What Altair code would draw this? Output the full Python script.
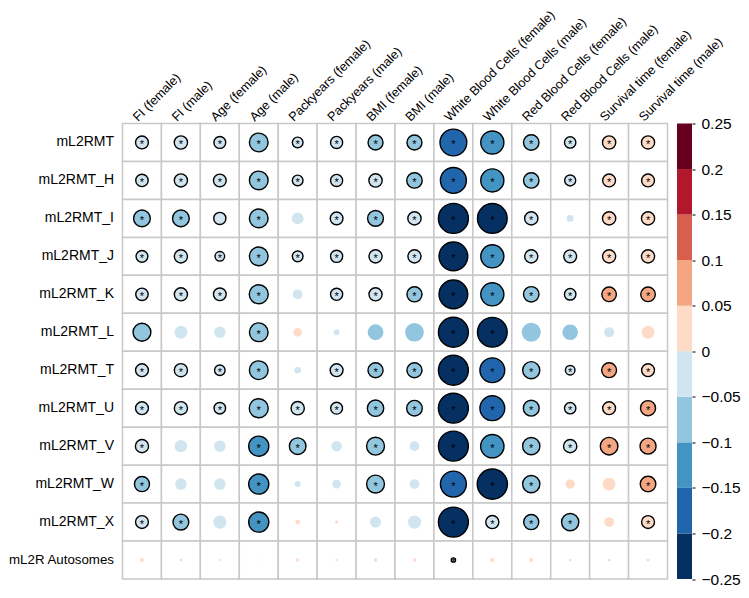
import altair as alt
import pandas as pd

cols = ["FI (female)", "FI (male)", "Age (female)", "Age (male)",
        "Packyears (female)", "Packyears (male)", "BMI (female)", "BMI (male)",
        "White Blood Cells (female)", "White Blood Cells (male)",
        "Red Blood Cells (female)", "Red Blood Cells (male)",
        "Survival time (female)", "Survival time (male)"]

rows = ["mL2RMT", "mL2RMT_H", "mL2RMT_I", "mL2RMT_J", "mL2RMT_K", "mL2RMT_L",
        "mL2RMT_T", "mL2RMT_U", "mL2RMT_V", "mL2RMT_W", "mL2RMT_X", "mL2R Autosomes"]

v_mL2RMT   = [-0.045, -0.048, -0.038, -0.095, -0.031, -0.040, -0.061, -0.061, -0.195, -0.145, -0.065, -0.035, 0.048, 0.047]
v_H        = [-0.042, -0.047, -0.044, -0.095, -0.031, -0.040, -0.048, -0.065, -0.183, -0.145, -0.065, -0.033, 0.045, 0.045]
v_I        = [-0.076, -0.076, -0.040, -0.095, -0.038, -0.044, -0.068, -0.048, -0.244, -0.240, -0.048, -0.013, 0.048, 0.047]
v_J        = [-0.038, -0.047, -0.025, -0.095, -0.031, -0.040, -0.047, -0.047, -0.225, -0.145, -0.047, -0.045, 0.047, 0.047]
v_K        = [-0.042, -0.047, -0.044, -0.098, -0.026, -0.040, -0.047, -0.062, -0.225, -0.145, -0.065, -0.036, 0.058, 0.058]
v_L        = [-0.087, -0.045, -0.036, -0.095, 0.020, -0.009, -0.068, -0.095, -0.244, -0.240, -0.098, -0.066, -0.028, 0.045]
v_T        = [-0.045, -0.047, -0.030, -0.095, -0.012, -0.045, -0.062, -0.062, -0.244, -0.167, -0.080, -0.025, 0.060, 0.045]
v_U        = [-0.045, -0.047, -0.036, -0.098, -0.048, -0.038, -0.073, -0.066, -0.244, -0.167, -0.068, -0.035, 0.045, 0.062]
v_V        = [-0.047, -0.042, -0.036, -0.110, -0.075, -0.030, -0.087, -0.026, -0.244, -0.148, -0.081, -0.048, 0.084, 0.070]
v_W        = [-0.062, -0.036, -0.036, -0.110, -0.010, -0.020, -0.087, -0.026, -0.183, -0.249, -0.081, 0.024, 0.045, 0.066]
v_X        = [-0.045, -0.068, -0.047, -0.110, 0.006, 0.003, -0.033, -0.047, -0.244, -0.047, -0.062, -0.081, 0.026, 0.045]
v_Auto     = [0.004, -0.002, -0.001, 0.0005, 0.003, -0.0015, -0.003, 0.003, -0.005, 0.005, 0.004, 0.002, -0.002, -0.002]
values = [v_mL2RMT, v_H, v_I, v_J, v_K, v_L, v_T, v_U, v_V, v_W, v_X, v_Auto]

ALL = list(range(14))
# column indices with a black outline, and with a significance star, per row
outlined = [ALL, ALL,
            [0, 1, 2, 3, 5, 6, 7, 8, 9, 10, 12, 13],
            ALL,
            [0, 1, 2, 3, 5, 6, 7, 8, 9, 10, 11, 12, 13],
            [0, 3, 8, 9],
            [0, 1, 2, 3, 5, 6, 7, 8, 9, 10, 11, 12, 13],
            ALL,
            [0, 3, 4, 6, 8, 9, 10, 11, 12, 13],
            [0, 3, 6, 8, 9, 10, 13],
            [0, 1, 3, 8, 9, 10, 11, 13],
            [8]]
starred = [ALL, ALL,
           [0, 1, 3, 5, 6, 7, 8, 9, 10, 12, 13],
           ALL,
           [0, 1, 2, 3, 5, 6, 7, 8, 9, 10, 11, 12, 13],
           [3, 8, 9],
           [0, 1, 2, 3, 5, 6, 7, 8, 9, 10, 11, 12, 13],
           ALL,
           [0, 3, 4, 6, 8, 9, 10, 11, 12, 13],
           [0, 3, 6, 8, 9, 10, 13],
           [0, 1, 3, 8, 9, 10, 11, 13],
           [8]]

palette = ["#053061", "#2166AC", "#4393C3", "#92C5DE", "#D1E5F0",
           "#FDDBC7", "#F4A582", "#D6604D", "#B2182B", "#67001F"]
legend_ticks = [-0.25, -0.2, -0.15, -0.1, -0.05, 0, 0.05, 0.1, 0.15, 0.2, 0.25]

records = []
for ri, r in enumerate(rows):
    for ci, c in enumerate(cols):
        v = values[ri][ci]
        records.append({"row": r, "col": c, "value": v, "absval": abs(v),
                        "outline": 1 if ci in outlined[ri] else 0,
                        "star": 1 if ci in starred[ri] else 0})
df = pd.DataFrame(records)

cb_df = pd.DataFrame({"lo": legend_ticks[:-1], "hi": legend_ticks[1:],
                      "mid": [(a + b) / 2 for a, b in zip(legend_ticks[:-1], legend_ticks[1:])],
                      "x0": 0, "x1": 1})

FONT = "Liberation Sans"
W, H = 545, 455.5

color_scale = alt.Scale(type="quantize", domain=[-0.25, 0.25], range=palette, nice=False)

x_enc = alt.X("col:N", sort=cols,
              scale=alt.Scale(domain=cols, paddingInner=0, paddingOuter=0),
              axis=alt.Axis(orient="top", title=None, labelAngle=-45, labelAlign="left",
                            labelBaseline="alphabetic", labelOffset=-4, labelPadding=2,
                            ticks=False, tickSize=0, domain=False, labelFontSize=12.7,
                            labelFont=FONT, labelColor="#000", labelLimit=400,
                            labelOverlap=False))
y_enc = alt.Y("row:N", sort=rows,
              scale=alt.Scale(domain=rows, paddingInner=0, paddingOuter=0),
              axis=alt.Axis(orient="left", title=None, ticks=False, tickSize=0,
                            domain=False,
                            labelFontSize={"condition": {"test": "datum.value == 'mL2R Autosomes'",
                                                         "value": 13.3},
                                           "value": 14},
                            labelFont=FONT,
                            labelColor="#000", labelPadding=9, labelLimit=400))

base = alt.Chart(df).encode(x=x_enc, y=y_enc)

color_enc = alt.Color("value:Q", scale=color_scale, legend=None)
size_enc = alt.Size("absval:Q", scale=alt.Scale(domain=[0, 0.25], range=[0, 920]),
                    legend=None)

cells = base.mark_rect(fill="white", stroke="#c8c8c8", strokeWidth=1.5)
plain = base.mark_circle(opacity=1).encode(color=color_enc, size=size_enc).transform_filter(
    "datum.outline == 0")
ringed = base.mark_circle(opacity=1, stroke="black", strokeWidth=1.4).encode(
    color=color_enc, size=size_enc).transform_filter("datum.outline == 1")
stars = base.mark_text(text="*", fontSize=11, dy=3, color="black", font=FONT).transform_filter(
    "datum.star == 1")

main = alt.layer(cells, plain, ringed, stars)

colorbar = alt.Chart(cb_df).mark_rect().encode(
    x=alt.X("x0:Q", scale=alt.Scale(domain=[0, 1], range=[554.5, 569.5]), axis=None),
    x2="x1:Q",
    y=alt.Y("lo:Q", scale=alt.Scale(domain=[-0.25, 0.25], nice=False, zero=False),
            axis=alt.Axis(orient="right", offset=24.5, title=None, values=legend_ticks,
                          format=".2~f", domain=False, ticks=True, tickSize=3,
                          tickColor="#000", tickWidth=1, labelPadding=6,
                          labelFontSize=15.5, labelFont=FONT, labelColor="#000",
                          labelFlush=False, labelOverlap=False, grid=False)),
    y2="hi:Q",
    color=alt.Color("mid:Q", scale=color_scale, legend=None),
)

chart = alt.layer(main, colorbar).resolve_scale(
    x="independent", y="independent"
).properties(
    width=W, height=H,
    autosize=alt.AutoSizeParams(type="none"),
    padding={"left": 114.5, "top": 115.5, "right": 73.5, "bottom": 7},
    background="white",
).configure_view(stroke=None)

chart.save("out.html", embed_options={"renderer": "svg", "actions": False})
